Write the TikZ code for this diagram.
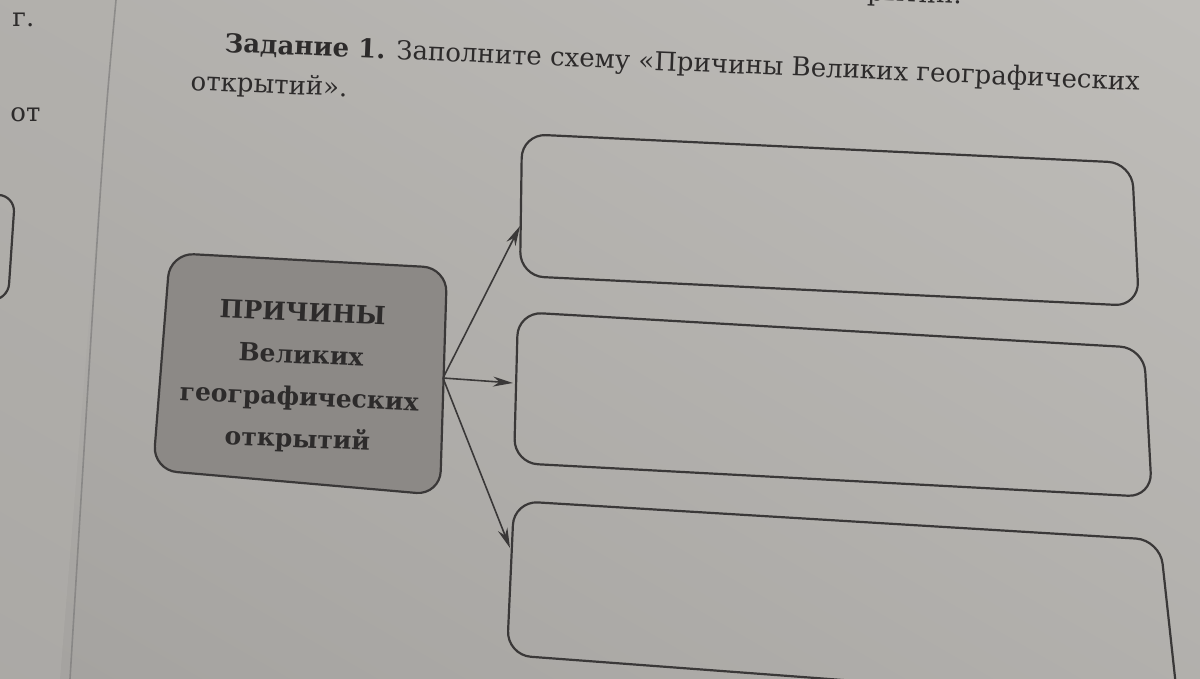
\documentclass[tikz,border=0pt]{standalone}
\usepackage{fontspec}
\setmainfont{DejaVu Serif}
\usetikzlibrary{arrows.meta}
\definecolor{paperlight}{RGB}{192,190,186}
\definecolor{paperdark}{RGB}{163,161,158}
\definecolor{leftpage}{RGB}{178,176,172}
\definecolor{inkline}{RGB}{58,56,56}
\definecolor{maingrey}{RGB}{140,137,134}
\definecolor{inktext}{RGB}{45,43,43}
\tikzset{
  emptybox/.style={draw=inkline, line width=1.1pt, rounded corners=12pt},
  mainbox/.style={draw=inkline, line width=1.1pt, rounded corners=12pt, fill=maingrey},
  arrowline/.style={draw=inkline, line width=0.8pt, -{Stealth[length=10pt,width=5pt]}},
  pagetext/.style={text=inktext, inner sep=0pt, font=\fontsize{13}{15}\selectfont},
}
\begin{document}
\begin{tikzpicture}[x=0.5pt,y=-0.5pt]
\useasboundingbox (0,0) rectangle (1200,679);
\clip (0,0) rectangle (1200,679);
% paper
\shade[shading=axis, top color=paperlight, bottom color=paperdark, shading angle=-30] (-200,-200) rectangle (1400,900);
\fill[leftpage, opacity=0.5] (0,0) -- (115,0) -- (60,679) -- (0,679) -- cycle;
\draw[inkline!70, line width=0.8pt, opacity=0.6] (116,0) .. controls (103,140) .. (70,679);
% left page remnants
\node[pagetext, anchor=base west] (lg) at (12,27) {г.};
\node[pagetext, anchor=base west] (lot) at (10,122) {от};
\draw[inkline, line width=1.1pt, rounded corners=8pt] (-30,193) -- (15,196) -- (8,300) -- (-30,300);
% top cut-off line
\node[pagetext, anchor=base east, rotate=-2.4] (topline) at (962,4) {открытий.};
% title
\node[pagetext, anchor=base west, rotate=-2.4] (title1) at (224,52)
  {\textbf{Задание 1.} Заполните схему «Причины Великих географических};
\node[pagetext, anchor=base west, rotate=-2.4] (title2) at (190,90) {открытий».};
% main box
\draw[mainbox] (170,253) -- (447,268) -- (440,495) -- (153,470) -- cycle;
\node[text=inktext, align=center, rotate=-2.5, font=\bfseries\fontsize{12.5}{21}\selectfont] (main) at (300,378)
  {ПРИЧИНЫ\\Великих\\географических\\открытий};
% empty boxes
\draw[emptybox] (522,134) -- (1132,163) -- (1139,306) -- (520,276) -- cycle;
\draw[emptybox] (518,312) -- (1144,348) -- (1152,497) -- (514,463) -- cycle;
\draw[emptybox] (514,501) -- (1160,540) -- (1178,705) -- (507,655) -- cycle;
% arrows
\coordinate (src) at (443,378);
\coordinate (t1) at (520,226);
\coordinate (t2) at (513,383);
\coordinate (t3) at (510,548);
\draw[arrowline] (src) -- (t1);
\draw[arrowline] (src) -- (t2);
\draw[arrowline] (src) -- (t3);
\end{tikzpicture}
\end{document}
